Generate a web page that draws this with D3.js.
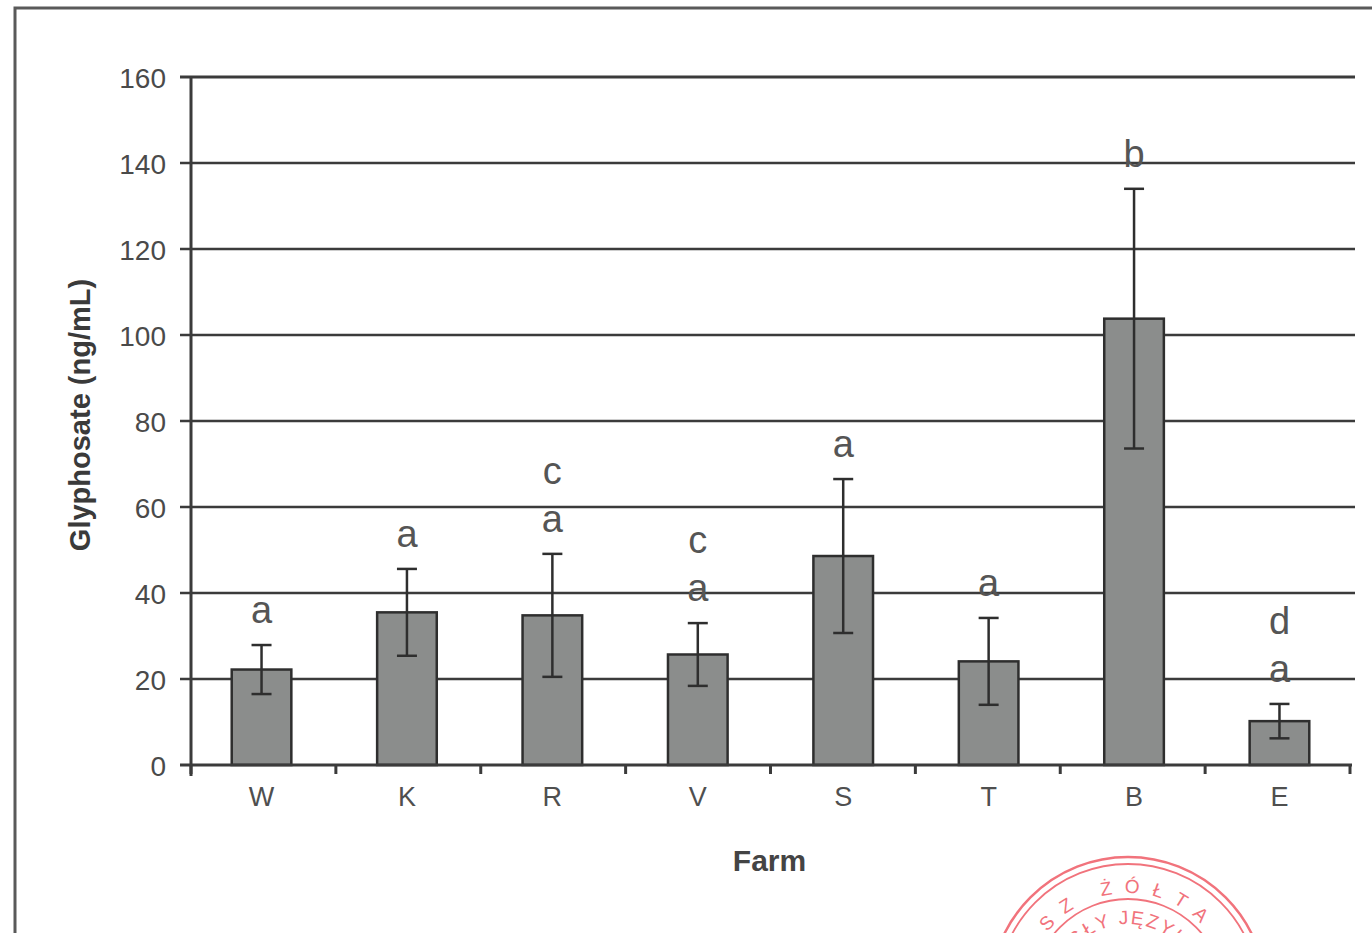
<!DOCTYPE html>
<html>
<head>
<meta charset="utf-8">
<script src="https://cdn.jsdelivr.net/npm/d3@7/dist/d3.min.js"></script>
<style>
  html, body { margin: 0; padding: 0; background: #ffffff; }
  svg { display: block; }
  text { font-family: "Liberation Sans", Arial, sans-serif; }
</style>
</head>
<body>
<svg id="chart" width="1372" height="933"></svg>
<script>
// Glyphosate concentration by farm (mean ± error), with significance letters
const farms = ["W", "K", "R", "V", "S", "T", "B", "E"];
const glyphosateMean = [22.2, 35.5, 34.8, 25.7, 48.6, 24.1, 103.8, 10.2];
const glyphosateErr = [5.7, 10.1, 14.3, 7.3, 17.9, 10.1, 30.2, 4.0];
const sigLetters = [["a"], ["a"], ["c", "a"], ["c", "a"], ["a"], ["a"], ["b"], ["d", "a"]];
const yTicks = [0, 20, 40, 60, 80, 100, 120, 140, 160];
const yLabel = "Glyphosate (ng/mL)";
const xLabel = "Farm";
const stampOuterText = "SZ\u00A0ŻÓŁTA";
const stampInnerText = "GŁY JĘZYK";

const svg = d3.select("#chart");

const plot = { left: 191, right: 1350, top: 77, bottom: 765 };
const ink = "#3b3b3b";

const x = d3.scaleBand()
  .domain(farms)
  .range([plot.left, plot.right])
  .paddingInner(0.59)
  .paddingOuter(0.28);

const y = d3.scaleLinear()
  .domain([0, 160])
  .range([plot.bottom, plot.top]);

// Page frame
svg.append("path")
  .attr("d", "M15,933 L15,8 L1372,8")
  .attr("fill", "none")
  .attr("stroke", "#5a5a5a")
  .attr("stroke-width", 3);

// Horizontal gridlines with left ticks
svg.append("g")
  .selectAll("line")
  .data(yTicks.filter(t => t > 0))
  .join("line")
  .attr("x1", plot.left - 11)
  .attr("x2", plot.right + 5)
  .attr("y1", d => y(d))
  .attr("y2", d => y(d))
  .attr("stroke", ink)
  .attr("stroke-width", d => d === 160 ? 3 : 2.5);

// Y axis (labels only; the line is drawn separately)
const yAxis = d3.axisLeft(y).tickValues(yTicks).tickSize(0).tickPadding(0);
const yG = svg.append("g")
  .attr("transform", `translate(${plot.left - 25},0)`)
  .call(yAxis);
yG.select(".domain").remove();
yG.selectAll("text")
  .attr("font-size", 28)
  .attr("fill", "#4a4a4a")
  .attr("font-family", "Liberation Sans, Arial, sans-serif")
  .attr("dy", "0.36em");

svg.append("line")
  .attr("x1", plot.left).attr("x2", plot.left)
  .attr("y1", plot.top).attr("y2", plot.bottom + 11)
  .attr("stroke", ink).attr("stroke-width", 3);

// Bars
svg.append("g")
  .selectAll("rect")
  .data(farms)
  .join("rect")
  .attr("x", d => x(d))
  .attr("width", x.bandwidth())
  .attr("y", (d, i) => y(glyphosateMean[i]))
  .attr("height", (d, i) => y(0) - y(glyphosateMean[i]))
  .attr("fill", "#8b8d8c")
  .attr("stroke", "#2e2e2e")
  .attr("stroke-width", 2.5);

// X axis line with band-edge ticks
svg.append("line")
  .attr("x1", plot.left - 11).attr("x2", plot.right + 2)
  .attr("y1", plot.bottom).attr("y2", plot.bottom)
  .attr("stroke", ink).attr("stroke-width", 3);

const edges = d3.range(farms.length + 1).map(i => plot.left + i * (plot.right - plot.left) / farms.length);
svg.append("g")
  .selectAll("line")
  .data(edges)
  .join("line")
  .attr("x1", d => d).attr("x2", d => d)
  .attr("y1", plot.bottom).attr("y2", plot.bottom + 9)
  .attr("stroke", ink).attr("stroke-width", 3);

// X category labels
const xAxis = d3.axisBottom(x).tickSize(0).tickPadding(0);
const xG = svg.append("g")
  .attr("transform", `translate(0,${plot.bottom + 20})`)
  .call(xAxis);
xG.select(".domain").remove();
xG.selectAll("text")
  .attr("font-size", 27)
  .attr("fill", "#4f4f4f")
  .attr("font-family", "Liberation Sans, Arial, sans-serif")
  .attr("dy", "0.78em");

// Error bars
const capHalf = 10;
const err = svg.append("g").attr("stroke", "#2e2e2e").attr("stroke-width", 2.5);
farms.forEach((f, i) => {
  const cx = x(f) + x.bandwidth() / 2;
  const hi = y(glyphosateMean[i] + glyphosateErr[i]);
  const lo = y(glyphosateMean[i] - glyphosateErr[i]);
  err.append("line").attr("x1", cx).attr("x2", cx).attr("y1", hi).attr("y2", lo);
  err.append("line").attr("x1", cx - capHalf).attr("x2", cx + capHalf).attr("y1", hi).attr("y2", hi);
  err.append("line").attr("x1", cx - capHalf).attr("x2", cx + capHalf).attr("y1", lo).attr("y2", lo);
});

// Significance letters stacked above each error bar
const letters = svg.append("g");
farms.forEach((f, i) => {
  const cx = x(f) + x.bandwidth() / 2;
  const top = y(glyphosateMean[i] + glyphosateErr[i]);
  const stack = sigLetters[i];
  stack.forEach((ch, j) => {
    const level = stack.length - 1 - j;
    letters.append("text")
      .attr("x", cx)
      .attr("y", top - 32 - level * 48)
      .attr("dy", "0.27em")
      .attr("text-anchor", "middle")
      .attr("font-size", 38)
      .attr("fill", "#555")
      .text(ch);
  });
});

// Axis titles
svg.append("text")
  .attr("x", (plot.left + plot.right) / 2 - 1)
  .attr("y", 871)
  .attr("text-anchor", "middle")
  .attr("font-size", 30)
  .attr("font-weight", "bold")
  .attr("fill", "#444")
  .text(xLabel);

svg.append("text")
  .attr("transform", "translate(90,415) rotate(-90)")
  .attr("text-anchor", "middle")
  .attr("font-size", 29)
  .attr("font-weight", "bold")
  .attr("fill", "#3a3a3a")
  .text(yLabel);

// Translator's stamp in the lower right corner
const stampColor = "#f0646e";
const stamp = svg.append("g")
  .attr("transform", "translate(1128,995)")
  .attr("fill", "none")
  .attr("stroke", stampColor)
  .attr("opacity", 0.9);
stamp.append("circle").attr("r", 138).attr("stroke-width", 2.5);
stamp.append("circle").attr("r", 131).attr("stroke-width", 1.8);
stamp.append("circle").attr("r", 96).attr("stroke-width", 1.8);

const arc = (r) => `M${-r},0 A${r},${r} 0 0,1 ${r},0`;
const defs = svg.append("defs");
defs.append("path").attr("id", "stampOuter").attr("d", arc(102));
defs.append("path").attr("id", "stampInner").attr("d", arc(71));

const stampText = svg.append("g")
  .attr("transform", "translate(1128,995)")
  .attr("fill", stampColor)
  .attr("opacity", 0.9);
stampText.append("text")
  .attr("font-size", 19)
  .attr("letter-spacing", 12)
  .append("textPath")
  .attr("href", "#stampOuter")
  .attr("startOffset", "50%")
  .attr("text-anchor", "middle")
  .text(stampOuterText);
stampText.append("text")
  .attr("font-size", 19)
  .attr("letter-spacing", 2)
  .append("textPath")
  .attr("href", "#stampInner")
  .attr("startOffset", "50%")
  .attr("text-anchor", "middle")
  .text(stampInnerText);
</script>
</body>
</html>
